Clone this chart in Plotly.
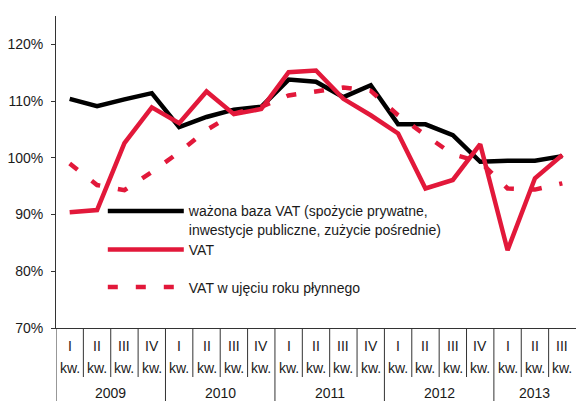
import plotly.graph_objects as go

quarters = ["I", "II", "III", "IV"] * 4 + ["I", "II", "III"]
years = ["2009", "2010", "2011", "2012", "2013"]
year_counts = [4, 4, 4, 4, 3]
y_ticks = [70, 80, 90, 100, 110, 120]
y_tick_labels = ["70%", "80%", "90%", "100%", "110%", "120%"]

baza_vat = [110.4, 109.1, 110.3, 111.4, 105.4, 107.2, 108.5, 109.0,
            113.8, 113.4, 110.7, 112.8, 105.9, 105.9, 104.0, 99.3,
            99.5, 99.5, 100.3]
vat = [90.4, 90.8, 102.6, 108.9, 106.1, 111.7, 107.7, 108.6,
       115.1, 115.4, 110.4, 107.5, 104.3, 94.6, 96.1, 102.4,
       83.7, 96.4, 100.5]
vat_roll = [99.0, 95.2, 94.3, 97.5, 101.0, 104.9, 107.8, 109.0,
            111.0, 111.7, 112.4, 111.8, 107.5, 104.0, 100.6, 99.3,
            94.6, 94.4, 95.5]

names = ["ważona baza VAT (spożycie prywatne,<br>inwestycje publiczne, zużycie pośrednie)",
         "VAT", "VAT w ujęciu roku płynnego"]

RED = "#E2183A"
FONT = "Liberation Sans, Arial, sans-serif"
TXT = "#1a1a1a"
x = list(range(len(quarters)))

fig = go.Figure()
fig.add_trace(go.Scatter(x=x, y=baza_vat, mode="lines", name=names[0],
                         line=dict(color="black", width=4.5), legend="legend"))
fig.add_trace(go.Scatter(x=x, y=vat, mode="lines", name=names[1],
                         line=dict(color=RED, width=4.5), legend="legend2"))
fig.add_trace(go.Scatter(x=x, y=vat_roll, mode="lines", name=names[2],
                         line=dict(color=RED, width=4.5, dash="10px,18px"), legend="legend3"))

H = 312.0
def py(px):
    return -px / H

shapes = []
annotations = []
idx = 0
boundaries = set()
for c in year_counts:
    idx += c
    boundaries.add(idx)
for i in range(1, len(quarters)):
    is_year = i in boundaries
    shapes.append(dict(type="line", xref="x", yref="paper", x0=i - 0.5, x1=i - 0.5,
                       y0=0, y1=py(73 if is_year else 49),
                       line=dict(color="#333", width=1)))
shapes.append(dict(type="line", xref="x", yref="paper", x0=-0.5, x1=-0.5,
                   y0=0, y1=py(73), line=dict(color="#333", width=1)))

for i, q in enumerate(quarters):
    annotations.append(dict(x=i, y=0, xref="x", yref="paper", text=q, showarrow=False,
                            yanchor="middle", yshift=-17.5,
                            font=dict(size=14, color=TXT, family=FONT)))
    annotations.append(dict(x=i, y=0, xref="x", yref="paper", text="kw.", showarrow=False,
                            yanchor="middle", yshift=-39.5,
                            font=dict(size=14, color=TXT, family=FONT)))
start = 0
for yname, c in zip(years, year_counts):
    annotations.append(dict(x=start + (c - 1) / 2, y=0, xref="x", yref="paper", text=yname,
                            showarrow=False, yanchor="middle", yshift=-65,
                            font=dict(size=14, color=TXT, family=FONT)))
    start += c

leg_common = dict(xanchor="left", yanchor="middle", bgcolor="rgba(0,0,0,0)",
                  itemwidth=76, font=dict(size=14, color=TXT, family=FONT),
                  valign="top", tracegroupgap=0)

fig.update_layout(
    width=576, height=401,
    margin=dict(l=56, r=0, t=16, b=73),
    plot_bgcolor="white", paper_bgcolor="white",
    font=dict(family=FONT, size=14, color=TXT),
    showlegend=True,
    legend=dict(x=0.09, y=0.345, **leg_common),
    legend2=dict(x=0.09, y=0.25, **leg_common),
    legend3=dict(x=0.09, y=0.13, **leg_common),
    xaxis=dict(range=[-0.5, 18.5], showgrid=False, zeroline=False, showticklabels=False,
               showline=True, linecolor="#333", linewidth=1, ticks=""),
    yaxis=dict(range=[70, 125], tickmode="array", tickvals=y_ticks, ticktext=y_tick_labels,
               showgrid=False, zeroline=False, showline=True, linecolor="#333", linewidth=1,
               ticks="outside", ticklen=4, tickcolor="#333", ticklabelstandoff=5,
               tickfont=dict(size=14, color=TXT, family=FONT)),
    shapes=shapes, annotations=annotations,
)

fig.write_html("out.html", config={"displayModeBar": False},
               post_script="document.body.style.margin='0';document.body.style.overflow='hidden';")
